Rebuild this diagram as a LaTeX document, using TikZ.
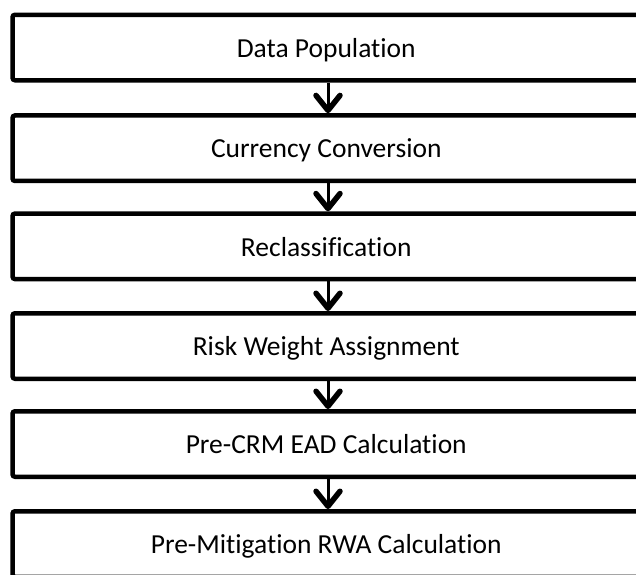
\documentclass[tikz,border=0pt]{standalone}
\usepackage{fontspec}
\setmainfont{Carlito}[Ligatures=NoCommon]
\usetikzlibrary{arrows.meta}
\tikzset{
  stepbox/.style={draw=black, line width=4.5pt, rounded corners=2.5pt, fill=white,
    minimum width=627.5pt, minimum height=65.5pt, inner sep=0pt,
    font=\fontsize{27.5pt}{30pt}\selectfont, text=black, text height=24.5pt, text depth=5pt},
  flow/.style={line width=3pt, -{Straight Barb[length=15pt, width=24pt, line width=5.5pt, round]}}
}
\begin{document}
\begin{tikzpicture}[x=1pt,y=-1pt]
\useasboundingbox (0,0) rectangle (636,574);
\clip (0,0) rectangle (636,574);
\fill[white] (0,0) rectangle (636,574);
\node[stepbox] (b1) at (326.25,47.5) {Data Population};
\node[stepbox] (b2) at (326.25,148.2) {Currency Conversion};
\node[stepbox] (b3) at (326.25,246.3) {Reclassification};
\node[stepbox] (b4) at (326.25,346) {Risk Weight Assignment};
\node[stepbox] (b5) at (326.25,444) {Pre-CRM EAD Calculation};
\node[stepbox] (b6) at (326.25,544) {Pre-Mitigation RWA Calculation};
\foreach \a/\b in {b1/b2,b2/b3,b3/b4,b4/b5,b5/b6}{
  \draw[flow] ([xshift=1.75pt]\a.south) -- ([xshift=1.75pt]\b.north);
}
\end{tikzpicture}
\end{document}
